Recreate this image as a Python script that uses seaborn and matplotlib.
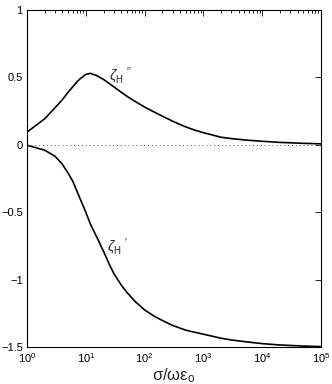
import numpy as np
import pandas as pd
import matplotlib
matplotlib.use("Agg")
import matplotlib.pyplot as plt
import seaborn as sns
from matplotlib.ticker import LogLocator, NullFormatter

# data
sigma_ratio = [1, 2, 3, 4, 5, 6, 7, 8, 10, 12, 15, 20, 25, 30, 40, 50, 70,
               100, 150, 200, 300, 500, 700, 1000, 2000, 3000, 5000,
               10000, 20000, 50000, 100000]
zeta_imag = [0.094, 0.193, 0.275, 0.335, 0.39, 0.43, 0.465, 0.49, 0.522,
             0.53, 0.515, 0.485, 0.455, 0.43, 0.39, 0.36, 0.32, 0.28, 0.24,
             0.213, 0.175, 0.133, 0.11, 0.09, 0.056, 0.046, 0.036, 0.026,
             0.018, 0.011, 0.007]
zeta_real = [-0.003, -0.04, -0.085, -0.145, -0.21, -0.27, -0.34, -0.40,
             -0.50, -0.59, -0.675, -0.79, -0.885, -0.955, -1.04, -1.095,
             -1.165, -1.225, -1.275, -1.303, -1.34, -1.375, -1.39, -1.405,
             -1.435, -1.448, -1.46, -1.475, -1.485, -1.493, -1.497]
yticks = [-1.5, -1, -0.5, 0, 0.5, 1]
ytick_labels = ["\u22121.5", "\u22121", "\u22120.5", "0", "0.5", "1"]

sns.set_theme(style="white")
plt.rcParams['font.family'] = ['Liberation Sans', 'DejaVu Sans']
plt.rcParams['mathtext.fontset'] = 'custom'
plt.rcParams['mathtext.rm'] = 'Liberation Sans'
plt.rcParams['mathtext.it'] = 'Liberation Sans:italic'

fig = plt.figure(figsize=(3.32, 3.84), dpi=100)
ax = fig.add_axes([27/332, 1-347/384, (321-27)/332, (347-10)/384])

df = pd.DataFrame({"x": sigma_ratio, "imag": zeta_imag, "real": zeta_real})
sns.lineplot(data=df, x="x", y="imag", ax=ax, color="black", linewidth=1.2)
sns.lineplot(data=df, x="x", y="real", ax=ax, color="black", linewidth=1.2)
ax.axhline(0, color="#555555", linestyle=(0, (1, 3)), linewidth=0.7)

ax.set_xscale("log")
ax.set_xlim(1, 1e5)
ax.set_ylim(-1.5, 1)
ax.set_yticks(yticks)
ax.set_yticklabels(ytick_labels)
ax.xaxis.set_major_locator(LogLocator(base=10, numticks=10))
ax.xaxis.set_minor_locator(LogLocator(base=10, subs=np.arange(2, 10), numticks=20))
ax.xaxis.set_minor_formatter(NullFormatter())

ax.tick_params(which="both", direction="in", top=True, right=True,
               labelsize=8, colors="black", pad=3)
ax.tick_params(which="major", length=4, width=0.6)
ax.tick_params(which="minor", length=2, width=0.6)
for s in ax.spines.values():
    s.set_color("black")
    s.set_linewidth(0.8)

ax.set_ylabel("")
ax.set_xlabel("\u03c3/\u03c9\u03b5$_{\\mathrm{o}}$", fontsize=12, labelpad=1)

ax.text(25, 0.585, r"$\zeta_{\mathrm{H}}\;^{\prime\prime}$", fontsize=10,
        ha="left", va="top")
ax.text(23, -0.68, r"$\zeta_{\mathrm{H}}\;^{\prime}$", fontsize=10,
        ha="left", va="top")

fig.savefig("out.png", dpi=100)
